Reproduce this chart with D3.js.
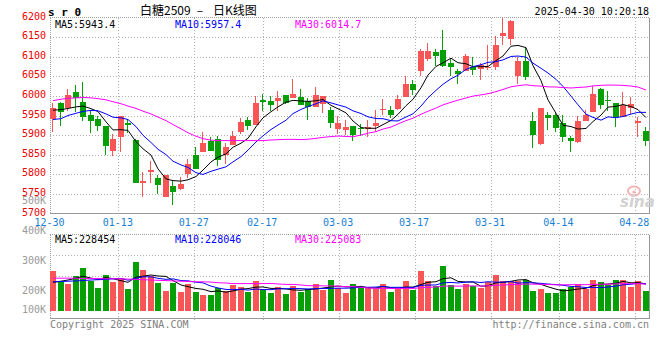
<!DOCTYPE html>
<html><head><meta charset="utf-8">
<script src="https://cdn.jsdelivr.net/npm/d3@7"></script>
<style>body{margin:0;background:#fff}svg{display:block}</style>
</head><body><svg id="c" width="660" height="360"></svg>
<script>
const dates = ["12-30","12-31","01-02","01-03","01-06","01-07","01-08","01-09","01-10","01-13","01-14","01-15","01-16","01-17","01-20","01-21","01-22","01-23","01-24","01-27","02-05","02-06","02-07","02-10","02-11","02-12","02-13","02-14","02-17","02-18","02-19","02-20","02-21","02-24","02-25","02-26","02-27","02-28","03-03","03-04","03-05","03-06","03-07","03-10","03-11","03-12","03-13","03-14","03-17","03-18","03-19","03-20","03-21","03-24","03-25","03-26","03-27","03-28","03-31","04-01","04-02","04-03","04-07","04-08","04-09","04-10","04-11","04-14","04-15","04-16","04-17","04-18","04-21","04-22","04-23","04-24","04-25","04-28","04-29","04-30"];
const open = [5941,5983,5968,6011,5984,5952,5941,5922,5860,5894,5930,5888,5779,5805,5790,5741,5771,5763,5801,5850,5856,5884,5891,5850,5876,5908,5939,5927,5989,5987,5986,6003,5995,5998,5988,5971,5979,5964,5916,5912,5924,5918,5916,5922,5963,5965,5967,5997,6030,6064,6094,6112,6118,6084,6063,6064,6075,6068,6071,6075,6154,6146,6050,6090,5935,5878,5952,5952,5932,5893,5882,5935,5958,6018,5989,5981,5946,5970,5932,5910];
const high = [5982,5985,6018,6027,6036,5965,5948,5922,5903,5948,5942,5891,5807,5833,5799,5799,5782,5793,5840,5869,5908,5895,5898,5880,5910,5944,5945,6000,6006,6000,6013,6003,6044,6018,5995,6022,5999,5972,5948,5939,5924,5929,5939,5965,5993,5975,6003,6051,6041,6119,6136,6119,6167,6096,6068,6108,6098,6084,6130,6152,6200,6194,6098,6122,5958,5969,5958,5956,5952,5897,5948,5965,6026,6020,6012,5981,6010,5997,5946,5920];
const low = [5908,5922,5962,5960,5935,5905,5911,5850,5846,5858,5905,5779,5741,5777,5750,5741,5722,5759,5790,5814,5856,5859,5820,5827,5876,5903,5914,5927,5961,5962,5961,5979,5995,5976,5939,5971,5956,5918,5903,5899,5884,5897,5894,5910,5952,5944,5963,5997,6003,6051,6090,6077,6073,6050,6030,6064,6054,6041,6067,6067,6131,6131,6031,6041,5867,5876,5914,5908,5882,5857,5880,5935,5958,5967,5961,5920,5946,5954,5894,5873];
const close = [5969,5960,6003,5994,5945,5935,5924,5871,5891,5948,5926,5779,5782,5810,5772,5799,5756,5776,5827,5814,5881,5860,5836,5870,5898,5933,5922,5983,5984,5976,5995,5983,6005,5976,5971,6003,5999,5930,5932,5920,5899,5915,5921,5932,5967,5952,5993,6031,6014,6114,6114,6103,6077,6073,6056,6101,6065,6078,6075,6131,6160,6190,6088,6047,5901,5969,5944,5918,5894,5884,5937,5952,6006,5976,5986,5946,5976,5980,5937,5884];
const volume = [270000,233300,226700,253300,280000,237700,213300,256700,234300,246700,210000,300000,273300,253300,230000,203300,230000,200000,225700,200000,190000,190000,212300,204300,221700,217700,201000,236700,206700,197700,217700,192300,220000,201000,210000,227700,206700,240000,214300,197700,226700,215700,216700,210000,226700,200000,210000,236700,208300,270000,236700,220000,286700,223300,210000,226700,220000,215000,233300,256700,236700,236700,236700,240000,203300,210000,196700,196700,211000,217700,226700,210000,240000,233300,223300,240000,240000,216700,236700,203300];
// moving-average values for the days whose window starts before 12-30
const priceMA5Lead = [5963.5,5965,5968,5972];
const priceMA10Lead = [5939.6,5942,5950,5955.6,5960.5,5963,5962,5954,5945.6];
const priceMA30Lead = [5988,5991.5,5994,5995,5996,5995,5993,5990,5985,5980,5974,5968,5961,5954,5946,5937,5927,5916,5906,5897,5891,5887,5886,5886,5886,5886,5886,5886,5886];
const volMA5Lead = [232000,236000,240000,246000];
const volMA10Lead = [234000,235000,236000,237000,238000,240000,241000,242000,244000];
const volMA30Lead = [246000,246000,246000,246000,245000,245000,245000,244000,244000,244000,243000,242000,241000,240000,239000,238000,237000,236000,235000,234000,234000,233000,231000,230000,228000,228000,228000,228000,228000];
const priceTicks = [5700,5750,5800,5850,5900,5950,6000,6050,6100,6150,6200];
const volTicks = [100000,200000,300000,400000,500000];
const volTickLabels = ["100K","200K","300K","400K","500K"];
const dateTicks = ["12-30","01-13","01-27","02-17","03-03","03-17","03-31","04-14","04-28"];
const priceLegendNames = ["MA5","MA10","MA30"];
const priceLegendValues = ["5943.4","5957.4","6014.7"];
const volLegendValues = ["228454","228046","225083"];

const RED = "#f85656", GREEN = "#06a006";
const MA_COLORS = ["#000000","#0000ff","#ff00ff"];
const MONO = "'DejaVu Sans Mono', monospace";
const svg = d3.select("#c");
svg.append("rect").attr("width",660).attr("height",360).attr("fill","#fff");

const n = close.length;
const x = d3.scaleBand().domain(d3.range(n)).range([50,650]);
const gridX = d3.scaleLinear().domain([0, n-1]).range([50,650]);
const yP = d3.scaleLinear().domain([5700,6200]).range([213.5,17.5]);
const yV = d3.scaleLinear().domain([200000,500000]).range([292,202]);
const VOL_BASE = 311;
const bx = i => Math.round(x(i));
const cx = i => bx(i) + 2.5;

function ma(vals, k, lead){
  return vals.map((v,i)=> i < k-1 ? lead[i] : d3.mean(vals.slice(i-k+1,i+1)));
}

const grid = svg.append("g").attr("stroke","#b0b0b0").attr("stroke-dasharray","1,2").attr("shape-rendering","crispEdges");
priceTicks.slice(1,-1).forEach(p=>{
  grid.append("line").attr("x1",50).attr("x2",650).attr("y1",Math.round(yP(p))+0.5).attr("y2",Math.round(yP(p))+0.5);
});
[0.25,0.5,0.75].forEach(f=>{
  const yy = Math.round(234.5 + (318-234.5)*f)+0.5;
  grid.append("line").attr("x1",50).attr("x2",650).attr("y1",yy).attr("y2",yy);
});
dateTicks.slice(1).forEach(d=>{
  const gx = Math.round(gridX(dates.indexOf(d)))+0.5;
  grid.append("line").attr("x1",gx).attr("x2",gx).attr("y1",18).attr("y2",213);
  grid.append("line").attr("x1",gx).attr("x2",gx).attr("y1",235).attr("y2",321);
});

function frame(y0,y1){
  const g = svg.append("g").attr("shape-rendering","crispEdges");
  g.append("line").attr("x1",50).attr("x2",650).attr("y1",y0).attr("y2",y0).attr("stroke","#a0a0a0").attr("stroke-dasharray","1,1");
  g.append("line").attr("x1",50.5).attr("x2",50.5).attr("y1",y0).attr("y2",y1).attr("stroke","#a0a0a0").attr("stroke-dasharray","1,1");
  g.append("line").attr("x1",50).attr("x2",650).attr("y1",y1).attr("y2",y1).attr("stroke","#999");
  g.append("line").attr("x1",649.5).attr("x2",649.5).attr("y1",y0).attr("y2",y1).attr("stroke","#999").attr("stroke-width",1.5);
}
frame(17.5,213.5);
frame(234.5,318.5);

const wm = svg.append("g");
wm.append("ellipse").attr("cx",634).attr("cy",191).attr("rx",6).attr("ry",4.5).attr("fill","none").attr("stroke","#f3b4b4").attr("stroke-width",2);
wm.append("circle").attr("cx",634).attr("cy",192).attr("r",1.6).attr("fill","#f3b4b4");
wm.append("text").attr("x",620).attr("y",207).attr("font-family","'DejaVu Sans', sans-serif").attr("font-style","italic").attr("font-weight","bold").attr("font-size",15).attr("fill","#d2d2d2").text("sina");

const cg = svg.append("g").attr("shape-rendering","crispEdges");
d3.range(n).forEach(i=>{
  const col = close[i] >= open[i] ? RED : GREEN;
  cg.append("line").attr("x1",cx(i)).attr("x2",cx(i)).attr("y1",yP(high[i])).attr("y2",yP(low[i])).attr("stroke",col);
  const top = yP(Math.max(open[i],close[i])), bot = yP(Math.min(open[i],close[i]));
  cg.append("rect").attr("x",bx(i)).attr("width",6).attr("y",top).attr("height",Math.max(1,bot-top)).attr("fill",col);
});

const pLine = d3.line().x((d,i)=>cx(i)+0.5).y(d=>yP(d));
[[5,priceMA5Lead],[10,priceMA10Lead],[30,priceMA30Lead]].forEach(([k,lead],j)=>{
  svg.append("path").attr("d",pLine(ma(close,k,lead))).attr("fill","none").attr("stroke",MA_COLORS[j]).attr("stroke-width",1);
});

const vg = svg.append("g").attr("shape-rendering","crispEdges");
d3.range(n).forEach(i=>{
  const col = close[i] >= open[i] ? RED : GREEN;
  vg.append("rect").attr("x",bx(i)).attr("width",6).attr("y",yV(volume[i])).attr("height",VOL_BASE-yV(volume[i])).attr("fill",col);
});
const vLine = d3.line().x((d,i)=>cx(i)+0.5).y(d=>yV(d));
[[5,volMA5Lead],[10,volMA10Lead],[30,volMA30Lead]].forEach(([k,lead],j)=>{
  svg.append("path").attr("d",vLine(ma(volume,k,lead))).attr("fill","none").attr("stroke",MA_COLORS[j]).attr("stroke-width",1);
});

const t = svg.append("g").attr("font-family",MONO).attr("font-size",10);
priceTicks.forEach(p=>{
  t.append("text").attr("x",46).attr("y",yP(p)+2).attr("text-anchor","end").attr("fill","#ee0000").text(p);
});
volTicks.forEach((v,i)=>{
  const yy = Math.min(yV(v)+1.7, 313.3);
  t.append("text").attr("x",46).attr("y",yy).attr("text-anchor","end").attr("fill","#9a9a9a").text(volTickLabels[i]);
});
dateTicks.forEach(d=>{
  t.append("text").attr("x",gridX(dates.indexOf(d))-0.5).attr("y",225.5).attr("text-anchor","middle").attr("fill","#1a7fd4").text(d);
});

const legX = [55,175,295];
priceLegendNames.forEach((nm,j)=>{
  t.append("text").attr("x",legX[j]).attr("y",27.5).attr("fill",MA_COLORS[j]).text(nm+":"+priceLegendValues[j]);
  t.append("text").attr("x",legX[j]).attr("y",242.5).attr("fill",MA_COLORS[j]).text(nm+":"+volLegendValues[j]);
});

const CJK = "'Noto Sans CJK SC', sans-serif";
svg.append("text").attr("x",48).attr("y",15.5).attr("font-family",MONO).attr("font-weight","bold").attr("font-size",11).attr("fill","#000").text("s r 0");
svg.append("text").attr("x",140).attr("y",15).attr("font-family",CJK).attr("font-size",12).attr("fill","#000").text("白糖2509");
svg.append("text").attr("x",200).attr("y",15).attr("text-anchor","middle").attr("font-family",CJK).attr("font-size",12).attr("fill","#000").text("–");
svg.append("text").attr("x",213).attr("y",15).attr("font-family",CJK).attr("font-size",12).attr("fill","#000").text("日K线图");
t.append("text").attr("x",649).attr("y",15).attr("text-anchor","end").attr("fill","#000").text("2025-04-30 10:20:18");
t.append("text").attr("x",50).attr("y",327.5).attr("fill","#808080").text("Copyright 2025 SINA.COM");
t.append("text").attr("x",649).attr("y",327.5).attr("text-anchor","end").attr("fill","#808080").text("http://finance.sina.com.cn");
</script></body></html>
